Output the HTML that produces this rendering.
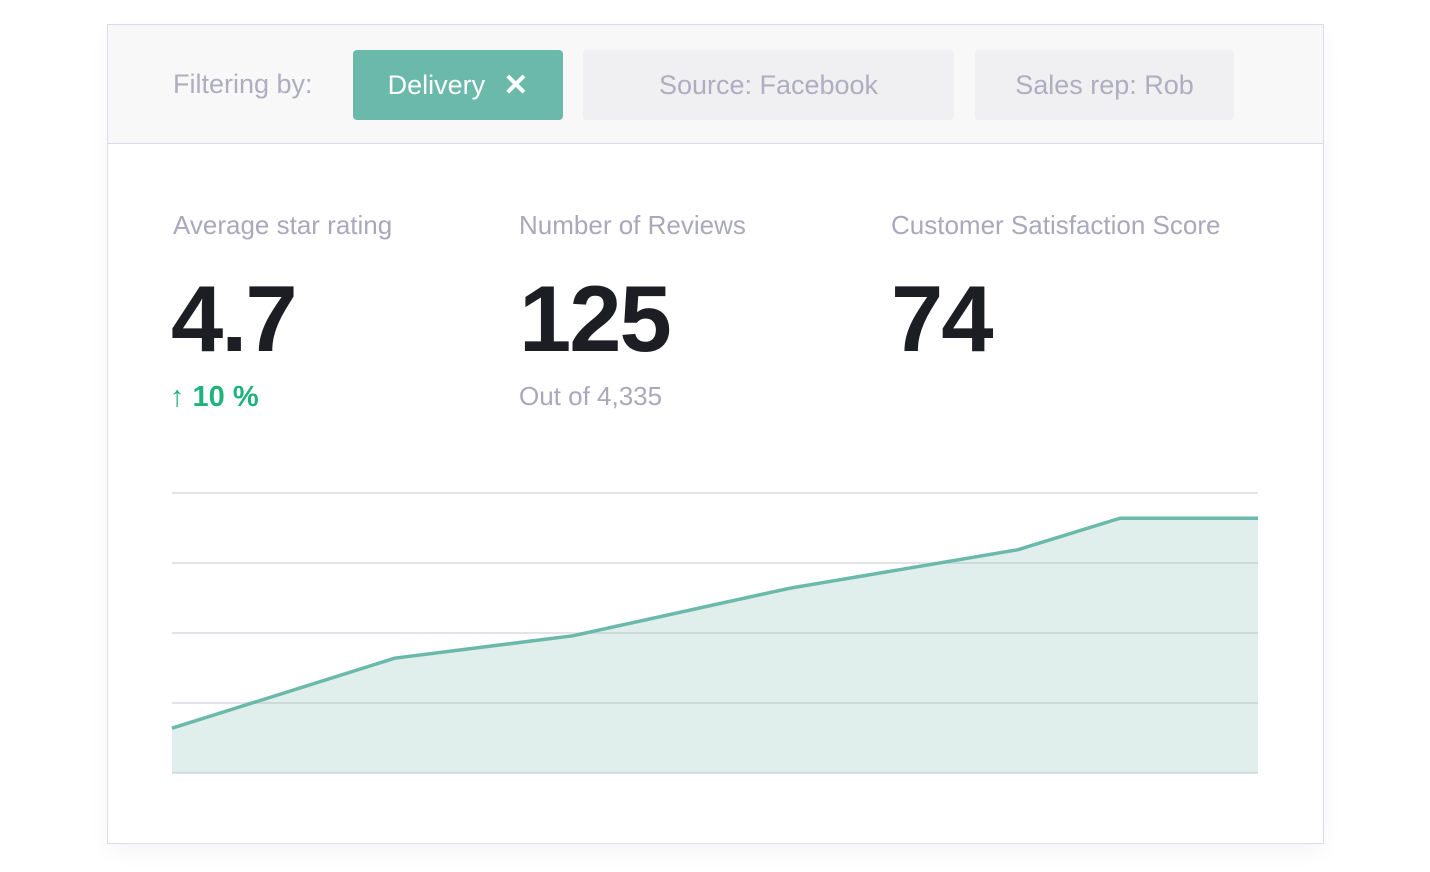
<!DOCTYPE html>
<html><head><meta charset="utf-8"><style>
body{margin:0;width:1430px;height:872px;background:#fff;font-family:"Liberation Sans",Arial,sans-serif;position:relative;overflow:hidden}
.card{position:absolute;left:107px;top:24px;width:1215px;height:818px;border:1px solid #dcdbe6;box-shadow:0 8px 20px rgba(0,0,0,0.04)}
.hdr{position:absolute;left:0;top:0;width:1215px;height:118px;background:#f8f8f9;border-bottom:1px solid #dcdbe6}
.t{position:absolute;white-space:nowrap}
.chip{position:absolute;top:25px;height:70px;border-radius:4px;display:flex;align-items:center;justify-content:center;font-size:27px;color:#aeaec0;background:#f0f0f2}
.lbl{font-size:26px;color:#a9a9bb;top:185px}
.big{font-size:94px;font-weight:bold;color:#1d1d24;top:240px;letter-spacing:-2px}
</style></head><body>
<div class="card">
 <div class="hdr">
  <div class="t" style="left:65px;top:44px;font-size:27px;color:#aeaec0">Filtering by:</div>
  <div class="chip" style="left:245px;width:210px;background:#6ab9ab;color:#fff">Delivery<span style="margin-left:18px;font-size:30px;font-weight:bold">✕</span></div>
  <div class="chip" style="left:475px;width:371px">Source: Facebook</div>
  <div class="chip" style="left:867px;width:259px">Sales rep: Rob</div>
 </div>
 <div class="t lbl" style="left:65px">Average star rating</div>
 <div class="t big" style="left:63px">4.7</div>
 <div class="t" style="left:62px;top:356px;font-size:29px;font-weight:bold;color:#1db37a">↑ 10 %</div>
 <div class="t lbl" style="left:411px">Number of Reviews</div>
 <div class="t big" style="left:411px">125</div>
 <div class="t" style="left:411px;top:356px;font-size:26px;color:#a9a9bb">Out of 4,335</div>
 <div class="t lbl" style="left:783px">Customer Satisfaction Score</div>
 <div class="t big" style="left:783px">74</div>
</div>
<svg id="chart" width="1430" height="872" style="position:absolute;left:0;top:0"></svg>
<script>
const xs=[0,20.5,36.9,56.9,77.9,87.3,100];
const values=[0.64,1.64,1.96,2.64,3.19,3.64,3.64];
const gridTicks=[0,1,2,3,4];
const NS="http://www.w3.org/2000/svg";
const svg=document.getElementById('chart');
const X=v=>172+v/100*1086, Y=v=>773-v*70;
gridTicks.forEach(t=>{const l=document.createElementNS(NS,'line');
l.setAttribute('x1',172);l.setAttribute('x2',1258);l.setAttribute('y1',Y(t));l.setAttribute('y2',Y(t));
l.setAttribute('stroke','#e4e4e8');l.setAttribute('stroke-width',2);


svg.appendChild(l);});
const pts=xs.map((x,i)=>X(x)+','+Y(values[i]));
const a=document.createElementNS(NS,'polygon');
a.setAttribute('points',pts.join(' ')+' '+X(100)+','+Y(0)+' '+X(0)+','+Y(0));
a.setAttribute('fill','rgba(106,175,160,0.2)');


svg.appendChild(a);
const p=document.createElementNS(NS,'polyline');
p.setAttribute('points',pts.join(' '));p.setAttribute('fill','none');p.setAttribute('stroke','#6ab9ab');p.setAttribute('stroke-width',3.5);


svg.appendChild(p);
</script>
</body></html>
